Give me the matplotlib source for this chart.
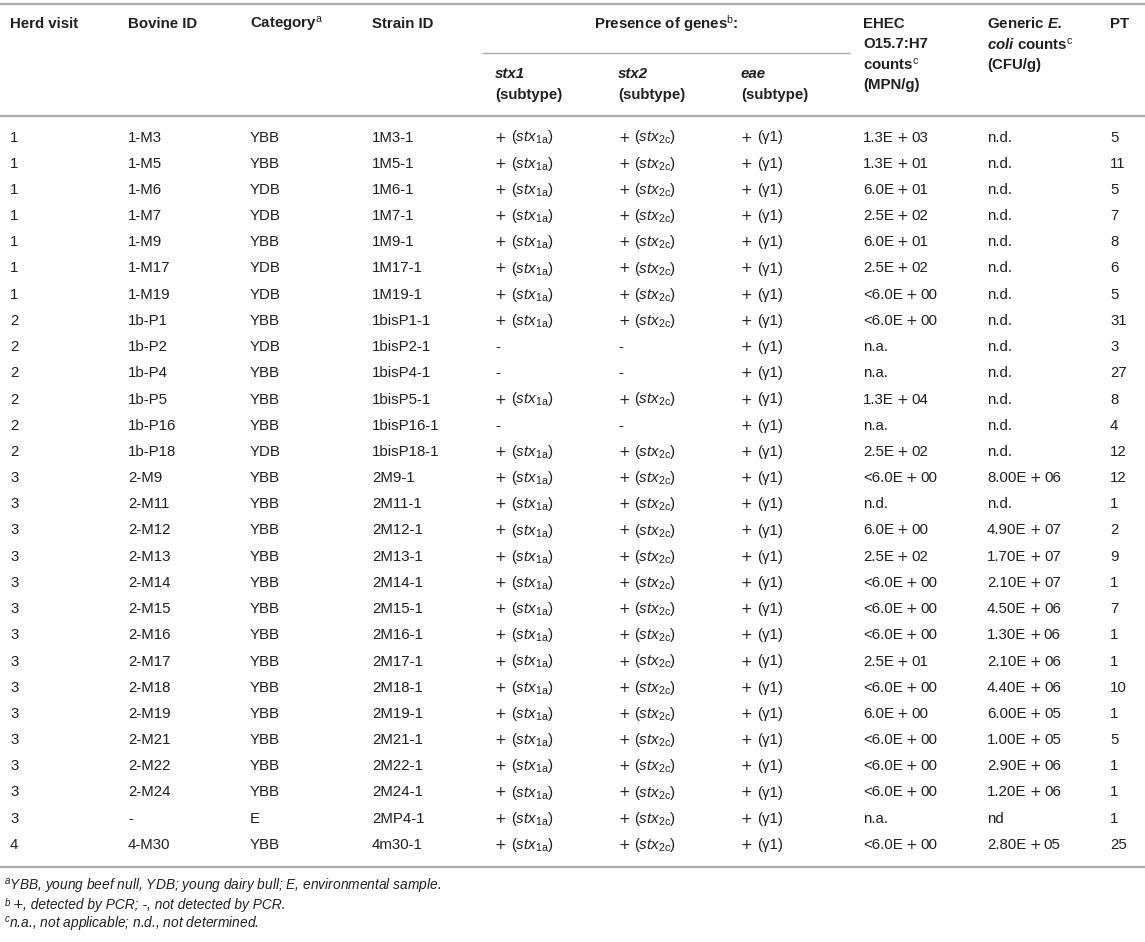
import matplotlib
matplotlib.use("Agg")
import matplotlib.pyplot as plt

# --- data ---
herd_visit = [1, 1, 1, 1, 1, 1, 1, 2, 2, 2, 2, 2, 2,
              3, 3, 3, 3, 3, 3, 3, 3, 3, 3, 3, 3, 3, 3, 4]
bovine_id = ["1-M3", "1-M5", "1-M6", "1-M7", "1-M9", "1-M17", "1-M19",
             "1b-P1", "1b-P2", "1b-P4", "1b-P5", "1b-P16", "1b-P18",
             "2-M9", "2-M11", "2-M12", "2-M13", "2-M14", "2-M15", "2-M16",
             "2-M17", "2-M18", "2-M19", "2-M21", "2-M22", "2-M24", "-", "4-M30"]
category = ["YBB", "YBB", "YDB", "YDB", "YBB", "YDB", "YDB",
            "YBB", "YDB", "YBB", "YBB", "YBB", "YDB",
            "YBB", "YBB", "YBB", "YBB", "YBB", "YBB", "YBB",
            "YBB", "YBB", "YBB", "YBB", "YBB", "YBB", "E", "YBB"]
strain_id = ["1M3-1", "1M5-1", "1M6-1", "1M7-1", "1M9-1", "1M17-1", "1M19-1",
             "1bisP1-1", "1bisP2-1", "1bisP4-1", "1bisP5-1", "1bisP16-1", "1bisP18-1",
             "2M9-1", "2M11-1", "2M12-1", "2M13-1", "2M14-1", "2M15-1", "2M16-1",
             "2M17-1", "2M18-1", "2M19-1", "2M21-1", "2M22-1", "2M24-1", "2MP4-1", "4m30-1"]
# True = detected (+), False = not detected (-)
stx1 = [True] * 8 + [False, False, True, False] + [True] * 16
stx2 = [True] * 8 + [False, False, True, False] + [True] * 16
eae = [True] * 28
ehec = ["1.3E+03", "1.3E+01", "6.0E+01", "2.5E+02", "6.0E+01", "2.5E+02",
        "<6.0E+00", "<6.0E+00", "n.a.", "n.a.", "1.3E+04", "n.a.", "2.5E+02",
        "<6.0E+00", "n.d.", "6.0E+00", "2.5E+02", "<6.0E+00", "<6.0E+00",
        "<6.0E+00", "2.5E+01", "<6.0E+00", "6.0E+00", "<6.0E+00",
        "<6.0E+00", "<6.0E+00", "n.a.", "<6.0E+00"]
generic = ["n.d."] * 13 + ["8.00E+06", "n.d.", "4.90E+07", "1.70E+07",
           "2.10E+07", "4.50E+06", "1.30E+06", "2.10E+06", "4.40E+06",
           "6.00E+05", "1.00E+05", "2.90E+06", "1.20E+06", "nd", "2.80E+05"]
pt = [5, 11, 5, 7, 8, 6, 5, 31, 3, 27, 8, 4, 12, 12, 1, 2, 9, 1, 7, 1, 1, 10,
      1, 5, 1, 1, 1, 25]

footnotes = [
    ("a", "YBB, young beef null, YDB; young dairy bull; E, environmental sample."),
    ("b", "+, detected by PCR; -, not detected by PCR."),
    ("c", "n.a., not applicable; n.d., not determined."),
]

# --- style ---
plt.rcParams['font.family'] = ['Liberation Sans', 'DejaVu Sans']
plt.rcParams['mathtext.fontset'] = 'custom'
plt.rcParams['mathtext.rm'] = 'Liberation Sans'
plt.rcParams['mathtext.it'] = 'Liberation Sans:italic'
plt.rcParams['mathtext.bf'] = 'Liberation Sans:bold'
plt.rcParams['mathtext.bfit'] = 'Liberation Sans:bold:italic'

TXT = '#231f20'
LINE = '#ababab'
FS = 10.8      # body / header
FS_NOTE = 9.9  # footnotes

fig = plt.figure(figsize=(11.45, 9.42), dpi=100)
ax = fig.add_axes([0, 0, 1, 1])
ax.set_xlim(0, 1145)
ax.set_ylim(942, 0)
ax.axis('off')
renderer = fig.canvas.get_renderer()

col_x = [10, 128, 250, 372, 495, 618, 741, 863, 987, 1110]


def runs(x, y, parts, **base):
    """draw a sequence of text pieces side by side"""
    for s, kw in parts:
        opts = dict(base)
        opts.update(kw)
        gap = opts.pop('gap', 0)
        x += gap
        t = ax.text(x, y, s, **opts)
        x += t.get_window_extent(renderer).width


def plus_cell(x, y, rest, fs=FS):
    # the plus sign in the source is a wide, thin one
    runs(x, y, [("+", dict(family='DejaVu Sans', fontsize=fs * 0.92)),
                (rest, dict(gap=4))],
         fontsize=fs, color=TXT, va='center', ha='left')


def count_cell(x, y, s):
    if '+' not in s:
        ax.text(x, y, s, fontsize=FS, color=TXT, va='center', ha='left')
        return
    a, b = s.split('+')
    runs(x, y, [(a, {}),
                ("+", dict(family='DejaVu Sans', fontsize=FS * 0.92, gap=3)),
                (b, dict(gap=3))],
         fontsize=FS, color=TXT, va='center', ha='left')


# --- header ---
hy = 24
hkw = dict(fontsize=FS, fontweight='bold', color=TXT, va='center', ha='left')
ax.text(col_x[0], hy, "Herd visit", **hkw)
ax.text(col_x[1], hy, "Bovine ID", **hkw)
ax.text(col_x[2], hy, r"Category$^{\mathrm{a}}$", **hkw)
ax.text(col_x[3], hy, "Strain ID", **hkw)
ax.text(666, hy, r"Presence of genes$^{\mathrm{b}}$:", fontsize=FS, fontweight='bold',
        color=TXT, va='center', ha='center')
for x, g in zip(col_x[4:7], ["stx1", "stx2", "eae"]):
    ax.text(x, 74, g, fontsize=FS, fontweight='bold', fontstyle='italic', color=TXT,
            va='center', ha='left')
    ax.text(x, 95, "(subtype)", **hkw)
for i, s in enumerate(["EHEC", "O15.7:H7", r"counts$^{\mathrm{c}}$", "(MPN/g)"]):
    ax.text(col_x[7], hy + i * 20.5, s, **hkw)
for i, s in enumerate([r"Generic $\mathbfit{E.}$", r"$\mathbfit{coli}$ counts$^{\mathrm{c}}$",
                       "(CFU/g)"]):
    ax.text(col_x[8], hy + i * 20.5, s, **hkw)
ax.text(col_x[9], hy, "PT", **hkw)

# --- rules ---
ax.plot([0, 1145], [3.5, 3.5], color=LINE, lw=1.6, solid_capstyle='butt')
ax.plot([482, 850], [53, 53], color=LINE, lw=1.0, solid_capstyle='butt')
ax.plot([0, 1145], [116, 116], color=LINE, lw=1.6, solid_capstyle='butt')
ax.plot([0, 1145], [867, 867], color=LINE, lw=1.6, solid_capstyle='butt')

# --- body ---
y0, dy = 137.5, 26.2
bkw = dict(fontsize=FS, color=TXT, va='center', ha='left')
for i in range(len(herd_visit)):
    y = y0 + i * dy
    ax.text(col_x[0], y, str(herd_visit[i]), **bkw)
    ax.text(col_x[1], y, bovine_id[i], **bkw)
    ax.text(col_x[2], y, category[i], **bkw)
    ax.text(col_x[3], y, strain_id[i], **bkw)
    if stx1[i]:
        plus_cell(col_x[4], y, r"($\mathit{stx}_{\mathrm{1a}}$)")
    else:
        ax.text(col_x[4], y, "-", **bkw)
    if stx2[i]:
        plus_cell(col_x[5], y, r"($\mathit{stx}_{\mathrm{2c}}$)")
    else:
        ax.text(col_x[5], y, "-", **bkw)
    if eae[i]:
        plus_cell(col_x[6], y, "(γ1)")
    else:
        ax.text(col_x[6], y, "-", **bkw)
    count_cell(col_x[7], y, ehec[i])
    count_cell(col_x[8], y, generic[i])
    ax.text(col_x[9], y, str(pt[i]), **bkw)

# --- footnotes ---
for i, (mark, note) in enumerate(footnotes):
    y = 886 + i * 19
    sup = r"$^{\mathit{" + mark + "}}$"
    if note.startswith('+'):
        runs(4, y, [(sup, {}), ("+", dict(family='DejaVu Sans', fontstyle='normal',
                                           fontsize=FS_NOTE * 0.95, gap=1)),
                    (note[1:], {})],
             fontsize=FS_NOTE, fontstyle='italic', color=TXT, va='center', ha='left')
    else:
        ax.text(4, y, sup + note, fontsize=FS_NOTE, fontstyle='italic',
                color=TXT, va='center', ha='left')

plt.savefig("out.png", dpi=100)
